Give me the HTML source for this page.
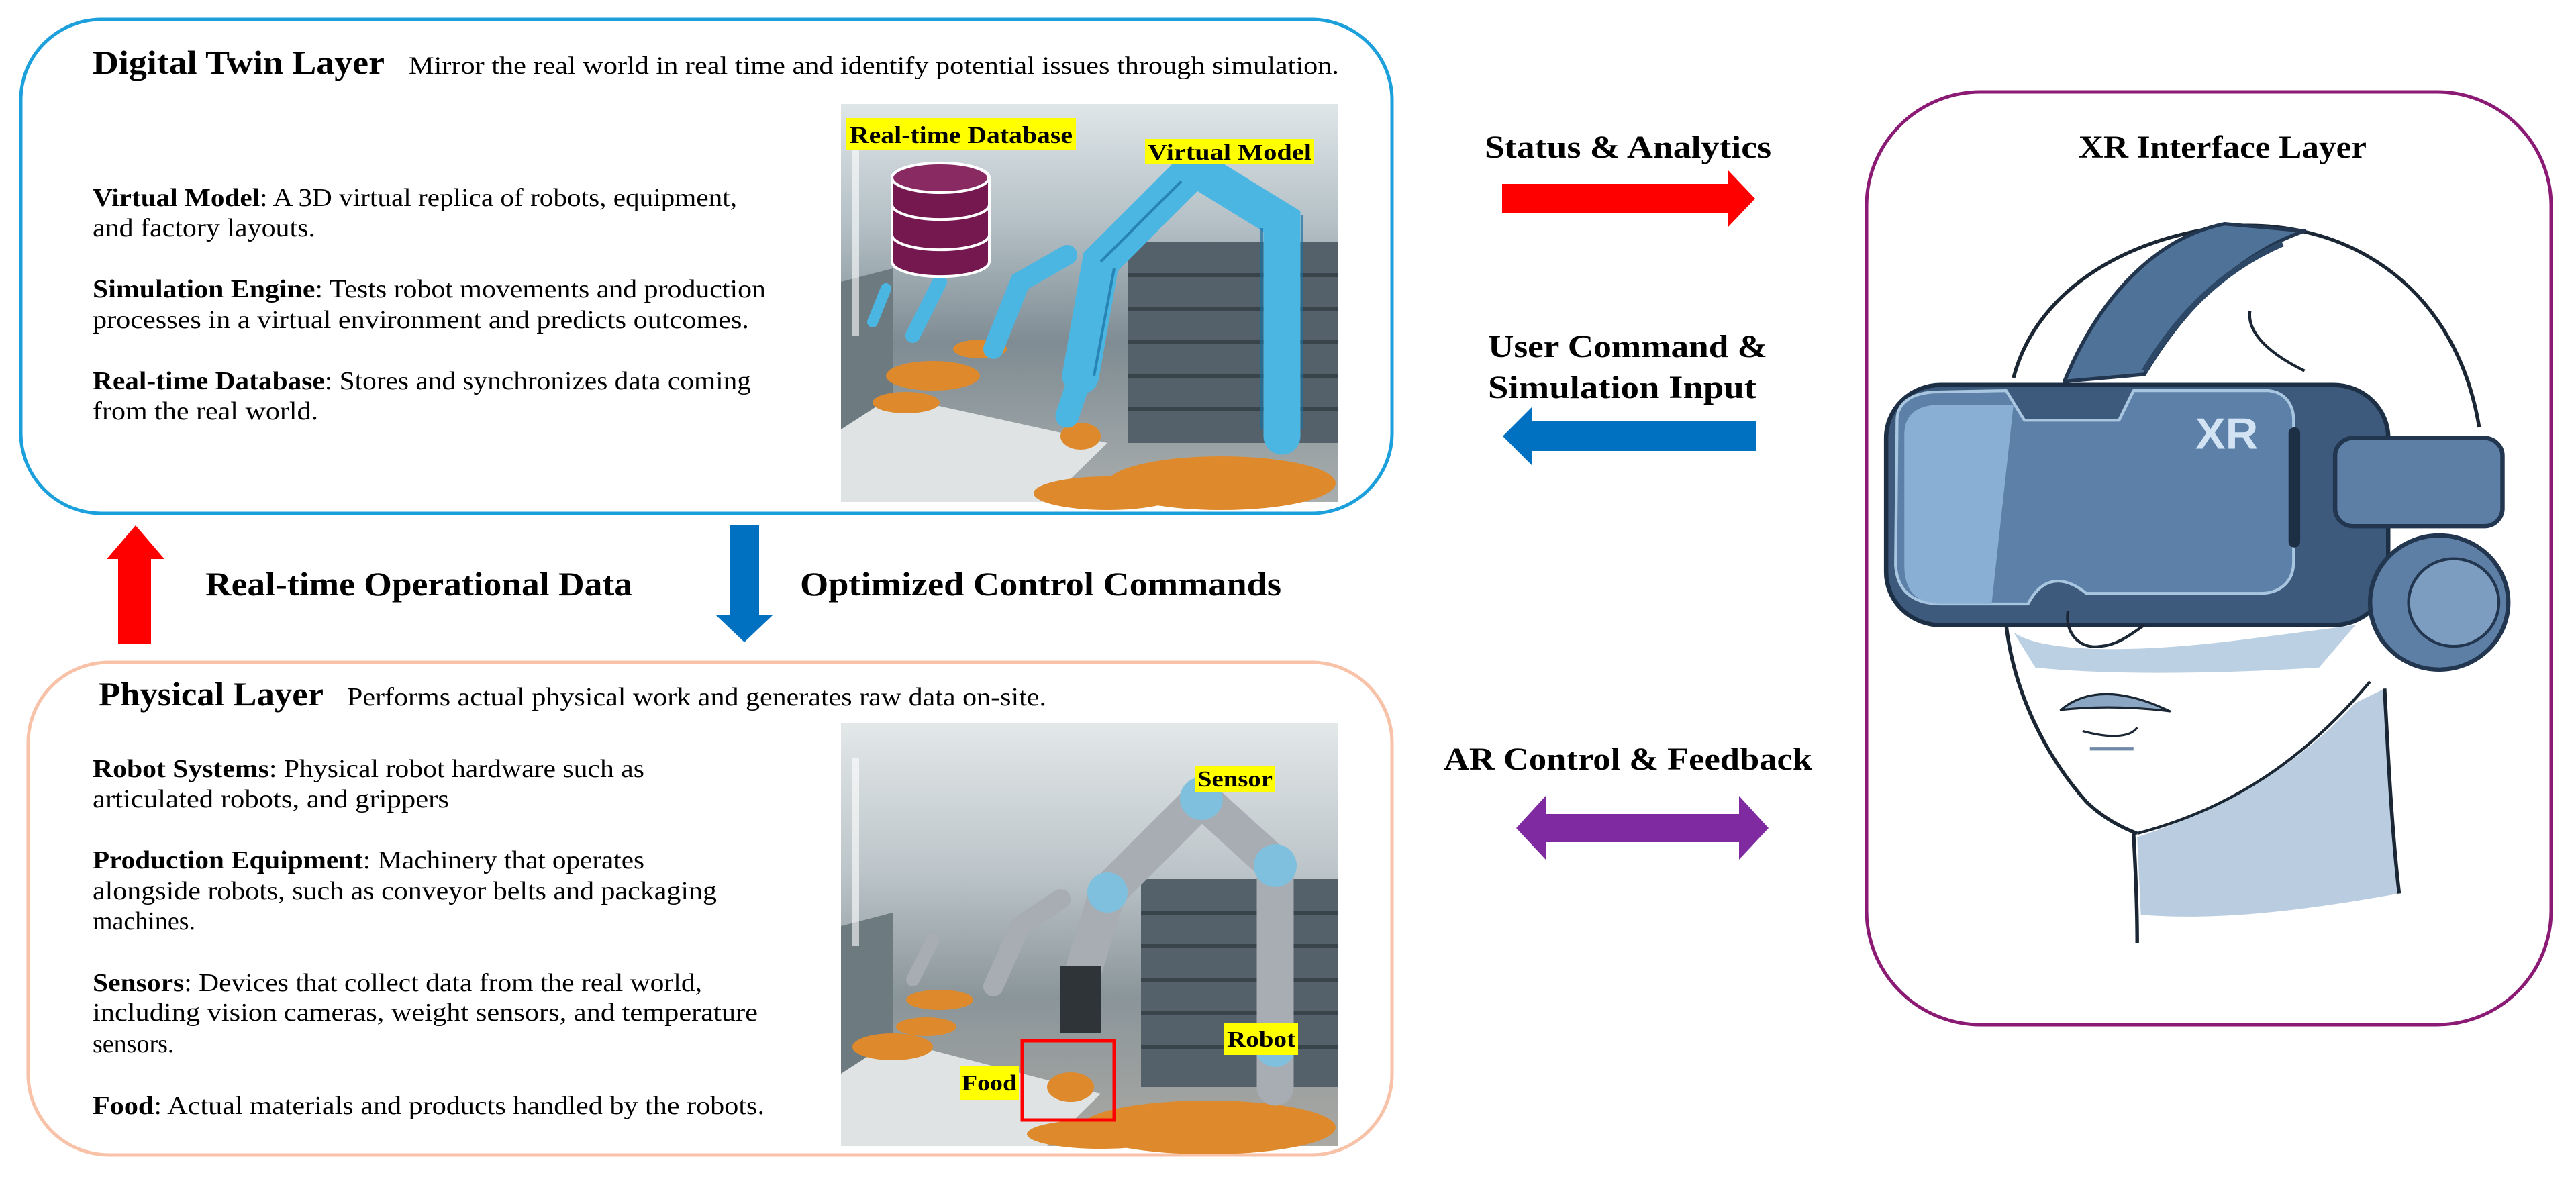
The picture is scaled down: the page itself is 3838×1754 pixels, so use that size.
<!DOCTYPE html>
<html><head><meta charset="utf-8"><style>
html,body{margin:0;padding:0;background:#fff;}
svg{display:block;}
text{font-family:"Liberation Serif",serif;fill:#000;}
.b{font-weight:bold;}
</style></head><body>
<svg width="3838" height="1754" viewBox="0 0 3838 1754" xmlns="http://www.w3.org/2000/svg">
<defs>
<linearGradient id="g1" x1="0" y1="0" x2="0" y2="1">
<stop offset="0" stop-color="#dfe6e8"/><stop offset="0.3" stop-color="#b4c0c6"/><stop offset="0.6" stop-color="#7f8c93"/><stop offset="1" stop-color="#a9aeae"/></linearGradient>
<linearGradient id="g2" x1="0" y1="0" x2="0" y2="1">
<stop offset="0" stop-color="#e3e8e9"/><stop offset="0.35" stop-color="#bcc5c9"/><stop offset="0.65" stop-color="#8a959a"/><stop offset="1" stop-color="#aaa9a3"/></linearGradient>
</defs>

<!-- Digital Twin box -->
<rect x="31" y="29" width="2043" height="736" rx="120" fill="none" stroke="#1ca0dc" stroke-width="5"/>
<text x="138" y="110" class="b" font-size="50" textLength="435" lengthAdjust="spacingAndGlyphs">Digital Twin Layer</text>
<text x="609" y="110" font-size="37" textLength="1386" lengthAdjust="spacingAndGlyphs">Mirror the real world in real time and identify potential issues through simulation.</text>
<g font-size="38">
<text x="138" y="307" textLength="960" lengthAdjust="spacingAndGlyphs"><tspan class="b">Virtual Model</tspan>: A 3D virtual replica of robots, equipment,</text>
<text x="138" y="352" textLength="332" lengthAdjust="spacingAndGlyphs">and factory layouts.</text>
<text x="138" y="443" textLength="1003" lengthAdjust="spacingAndGlyphs"><tspan class="b">Simulation Engine</tspan>: Tests robot movements and production</text>
<text x="138" y="489" textLength="978" lengthAdjust="spacingAndGlyphs">processes in a virtual environment and predicts outcomes.</text>
<text x="138" y="580" textLength="981" lengthAdjust="spacingAndGlyphs"><tspan class="b">Real-time Database</tspan>: Stores and synchronizes data coming</text>
<text x="138" y="625" textLength="336" lengthAdjust="spacingAndGlyphs">from the real world.</text>
</g>

<!-- DT image -->
<g>
<rect x="1253" y="155" width="740" height="593" fill="url(#g1)"/>
<polygon points="1253,420 1330,400 1330,748 1253,748" fill="#6d7a80"/>
<rect x="1680" y="360" width="313" height="300" fill="#55616a"/>
<g stroke="#39444a" stroke-width="6"><line x1="1680" y1="410" x2="1993" y2="410"/><line x1="1680" y1="460" x2="1993" y2="460"/><line x1="1680" y1="510" x2="1993" y2="510"/><line x1="1680" y1="560" x2="1993" y2="560"/><line x1="1680" y1="610" x2="1993" y2="610"/></g>
<polygon points="1253,640 1330,590 1650,660 1560,748 1253,748" fill="#dfe3e3"/>
<g fill="#de8a2c"><ellipse cx="1820" cy="720" rx="170" ry="40"/><ellipse cx="1650" cy="735" rx="110" ry="25"/><ellipse cx="1390" cy="560" rx="70" ry="22"/><ellipse cx="1350" cy="600" rx="50" ry="16"/><ellipse cx="1610" cy="650" rx="30" ry="20"/><ellipse cx="1460" cy="520" rx="40" ry="14"/></g>
<g stroke="#4cb6e3" fill="none" stroke-linecap="round">
<path d="M1910,650 L1910,330 L1780,250 L1640,390 L1610,560" stroke-width="55"/>
<path d="M1610,560 L1590,620" stroke-width="35"/>
<path d="M1480,520 L1520,420 L1590,380" stroke-width="30"/>
<path d="M1360,500 L1400,420" stroke-width="22"/>
<path d="M1300,480 L1320,430" stroke-width="16"/>
</g>
<g stroke="#1a6fa0" fill="none" stroke-width="4" opacity="0.7"><path d="M1880,640 L1880,340 M1940,640 L1940,320 M1660,400 L1630,560 M1760,270 L1640,390"/></g>
<rect x="1270" y="200" width="10" height="300" fill="#ffffff" opacity="0.6"/>
<!-- database -->
<g fill="#74184f" stroke="#fff" stroke-width="4">
<path d="M1329,390 L1329,265 A72,22 0 0 1 1474,265 L1474,390 A72,22 0 0 1 1329,390 Z"/>
<path d="M1329,305 A72,22 0 0 0 1474,305" fill="none"/>
<path d="M1329,350 A72,22 0 0 0 1474,350" fill="none"/>
<ellipse cx="1401" cy="265" rx="72" ry="22" fill="#8a2a63"/>
</g>
<rect x="1261" y="176" width="342" height="48" fill="#ffff00"/>
<text x="1266" y="213" class="b" font-size="36" textLength="332" lengthAdjust="spacingAndGlyphs">Real-time Database</text>
<rect x="1706" y="207" width="252" height="37" fill="#ffff00"/>
<text x="1710" y="238" class="b" font-size="34" textLength="244" lengthAdjust="spacingAndGlyphs">Virtual Model</text>
</g>

<!-- vertical arrows -->
<polygon points="176,960 176,833 159,833 202,783 245,833 225,833 225,960" fill="#ff0000"/>
<polygon points="1087,783 1131,783 1131,917 1151,917 1109,957 1067,917 1087,917" fill="#0070c0"/>
<text x="306" y="887" class="b" font-size="50" textLength="636" lengthAdjust="spacingAndGlyphs">Real-time Operational Data</text>
<text x="1192" y="887" class="b" font-size="50" textLength="717" lengthAdjust="spacingAndGlyphs">Optimized Control Commands</text>

<!-- Physical box -->
<rect x="42" y="987" width="2032" height="734" rx="120" fill="none" stroke="#f8c2a8" stroke-width="5"/>
<text x="147" y="1051" class="b" font-size="50" textLength="335" lengthAdjust="spacingAndGlyphs">Physical Layer</text>
<text x="517" y="1051" font-size="38" textLength="1042" lengthAdjust="spacingAndGlyphs">Performs actual physical work and generates raw data on-site.</text>
<g font-size="38">
<text x="138" y="1158" textLength="822" lengthAdjust="spacingAndGlyphs"><tspan class="b">Robot Systems</tspan>: Physical robot hardware such as</text>
<text x="138" y="1203" textLength="531" lengthAdjust="spacingAndGlyphs">articulated robots, and grippers</text>
<text x="138" y="1294" textLength="822" lengthAdjust="spacingAndGlyphs"><tspan class="b">Production Equipment</tspan>: Machinery that operates</text>
<text x="138" y="1340" textLength="930" lengthAdjust="spacingAndGlyphs">alongside robots, such as conveyor belts and packaging</text>
<text x="138" y="1385">machines.</text>
<text x="138" y="1477" textLength="908" lengthAdjust="spacingAndGlyphs"><tspan class="b">Sensors</tspan>: Devices that collect data from the real world,</text>
<text x="138" y="1521" textLength="991" lengthAdjust="spacingAndGlyphs">including vision cameras, weight sensors, and temperature</text>
<text x="138" y="1568">sensors.</text>
<text x="138" y="1660" textLength="1001" lengthAdjust="spacingAndGlyphs"><tspan class="b">Food</tspan>: Actual materials and products handled by the robots.</text>
</g>

<!-- Physical image -->
<g>
<rect x="1253" y="1077" width="740" height="631" fill="url(#g2)"/>
<polygon points="1253,1380 1330,1360 1330,1708 1253,1708" fill="#6d7a80"/>
<rect x="1700" y="1310" width="293" height="310" fill="#55616a"/>
<g stroke="#39444a" stroke-width="6"><line x1="1700" y1="1360" x2="1993" y2="1360"/><line x1="1700" y1="1410" x2="1993" y2="1410"/><line x1="1700" y1="1460" x2="1993" y2="1460"/><line x1="1700" y1="1510" x2="1993" y2="1510"/><line x1="1700" y1="1560" x2="1993" y2="1560"/></g>
<polygon points="1253,1600 1330,1550 1640,1630 1560,1708 1253,1708" fill="#dfe3e3"/>
<g fill="#de8a2c"><ellipse cx="1800" cy="1680" rx="190" ry="40"/><ellipse cx="1640" cy="1690" rx="110" ry="22"/><ellipse cx="1330" cy="1560" rx="60" ry="20"/><ellipse cx="1400" cy="1490" rx="50" ry="15"/><ellipse cx="1595" cy="1620" rx="35" ry="22"/><ellipse cx="1380" cy="1530" rx="45" ry="14"/></g>
<g stroke="#a7adb2" fill="none" stroke-linecap="round">
<path d="M1900,1620 L1900,1290 L1790,1190 L1650,1330 L1610,1460" stroke-width="55"/>
<path d="M1480,1470 L1520,1380 L1580,1340" stroke-width="30"/>
<path d="M1360,1460 L1390,1400" stroke-width="20"/>
</g>
<g fill="#7fc0de"><circle cx="1790" cy="1190" r="32"/><circle cx="1900" cy="1290" r="32"/><circle cx="1650" cy="1330" r="30"/><circle cx="1900" cy="1560" r="30"/></g>
<rect x="1580" y="1440" width="60" height="100" fill="#2f3438"/>
<rect x="1270" y="1130" width="10" height="280" fill="#ffffff" opacity="0.6"/>
<rect x="1523" y="1551" width="137" height="118" fill="none" stroke="#ff0000" stroke-width="5"/>
<rect x="1780" y="1141" width="120" height="39" fill="#ffff00"/>
<text x="1784" y="1172" class="b" font-size="34" textLength="112" lengthAdjust="spacingAndGlyphs">Sensor</text>
<rect x="1824" y="1524" width="110" height="48" fill="#ffff00"/>
<text x="1828" y="1560" class="b" font-size="34" textLength="102" lengthAdjust="spacingAndGlyphs">Robot</text>
<rect x="1430" y="1588" width="88" height="51" fill="#ffff00"/>
<text x="1433" y="1625" class="b" font-size="34" textLength="82" lengthAdjust="spacingAndGlyphs">Food</text>
</g>

<!-- horizontal arrows -->
<text x="2212" y="235" class="b" font-size="48" textLength="427" lengthAdjust="spacingAndGlyphs">Status &amp; Analytics</text>
<polygon points="2238,274 2574,274 2574,253 2615,296 2574,339 2574,318 2238,318" fill="#ff0000"/>
<text x="2217" y="532" class="b" font-size="48" textLength="416" lengthAdjust="spacingAndGlyphs">User Command &amp;</text>
<text x="2217" y="593" class="b" font-size="48" textLength="400" lengthAdjust="spacingAndGlyphs">Simulation Input</text>
<polygon points="2617,628 2282,628 2282,607 2239,650 2282,693 2282,672 2617,672" fill="#0070c0"/>
<text x="2151" y="1147" class="b" font-size="48" textLength="549" lengthAdjust="spacingAndGlyphs">AR Control &amp; Feedback</text>
<polygon points="2259,1234 2303,1186 2303,1213 2591,1213 2591,1186 2635,1234 2591,1281 2591,1255 2303,1255 2303,1281" fill="#7f2aa0"/>

<!-- XR box -->
<rect x="2781" y="137" width="1020" height="1390" rx="170" fill="none" stroke="#8b1a74" stroke-width="5"/>
<text x="3097" y="235" class="b" font-size="48" textLength="429" lengthAdjust="spacingAndGlyphs">XR Interface Layer</text>

<!-- Headset illustration -->
<g transform="translate(2100,100) scale(1.0842,1.0526)" stroke-linejoin="round">
<path d="M1000,1090 C1120,1050 1220,990 1300,900 L1340,880 L1360,1170 C1250,1190 1120,1210 1005,1200 Z" fill="#a9c0d8" opacity="0.8"/>
<path d="M830,800 C870,830 1000,830 1150,810 L1300,790 L1250,850 C1100,860 950,860 860,850 Z" fill="#bcd0e3"/>
<path d="M830,440 C860,320 980,240 1130,225 C1300,215 1440,320 1470,510" fill="none" stroke="#1a2633" stroke-width="5"/>
<path d="M1155,345 C1150,380 1190,410 1230,430" fill="none" stroke="#1a2633" stroke-width="4"/>
<path d="M820,790 C830,880 870,970 930,1040 C950,1060 975,1075 1000,1085" fill="none" stroke="#1a2633" stroke-width="5"/>
<path d="M1000,1085 C1130,1050 1230,980 1320,870" fill="none" stroke="#1a2633" stroke-width="4"/>
<path d="M995,1085 C998,1140 1000,1190 1000,1240" fill="none" stroke="#1a2633" stroke-width="5"/>
<path d="M1340,880 C1345,980 1350,1080 1360,1170" fill="none" stroke="#1a2633" stroke-width="5"/>
<path d="M900,445 C950,320 1030,240 1120,222 L1230,232 C1150,260 1070,330 1010,435 Z" fill="#4f7299" stroke="#22364f" stroke-width="5"/>
<path d="M1010,430 C1050,360 1110,290 1200,250" fill="none" stroke="#2d4766" stroke-width="8"/>
<rect x="655" y="450" width="690" height="340" rx="75" fill="#3d5a7d" stroke="#1d2f45" stroke-width="6"/>
<path d="M670,500 C670,475 690,462 720,460 L820,458 L845,500 L975,500 L995,458 L1180,458 C1205,460 1215,480 1215,500 L1215,700 C1215,730 1195,745 1170,745 L930,745 C900,720 870,720 850,760 L730,760 C690,760 670,740 668,705 Z" fill="#5d80a8" stroke="#a9c6e0" stroke-width="4"/>
<path d="M680,520 C680,490 700,478 730,478 L830,478 L800,760 L730,760 C695,760 680,740 680,705 Z" fill="#8fb4d8" opacity="0.9"/>
<rect x="1208" y="510" width="16" height="170" rx="8" fill="#1d2f45"/>
<text x="1080" y="540" font-size="62" class="b" style="fill:#d2e4f4;font-family:'Liberation Sans',sans-serif">XR</text>
<rect x="1272" y="525" width="230" height="125" rx="25" fill="#5d7fa6" stroke="#22364f" stroke-width="6"/>
<circle cx="1415" cy="758" r="95" fill="#5d7fa6" stroke="#22364f" stroke-width="6"/>
<circle cx="1435" cy="758" r="62" fill="#7c9cc0" stroke="#22364f" stroke-width="4"/>
<path d="M905,770 C900,800 920,825 950,820 C975,818 995,800 1010,790" fill="none" stroke="#1a2633" stroke-width="4"/>
<path d="M895,910 C930,880 980,880 1045,912 C990,905 940,905 895,910 Z" fill="#8aa6c2" stroke="#1a2633" stroke-width="3"/>
<path d="M925,940 C960,950 990,950 1000,935" fill="none" stroke="#1a2633" stroke-width="3"/>
<path d="M935,965 L995,965" stroke="#6e8aa8" stroke-width="5"/>
</g>
</svg>
</body></html>
